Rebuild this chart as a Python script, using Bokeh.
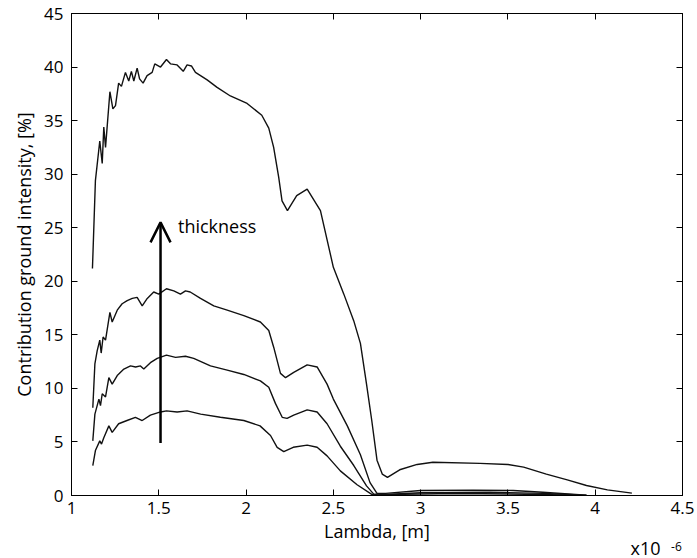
from bokeh.plotting import figure
from bokeh.models import Range1d, FixedTicker, LinearAxis, Arrow, OpenHead, Label, Title
from bokeh.embed import file_html
from bokeh.resources import INLINE

# wavelength in units of 1e-6 m, contribution in %
x1 = [1.122, 1.137, 1.162, 1.172, 1.185, 1.214, 1.233, 1.27, 1.318, 1.366, 1.405, 1.452,
      1.51, 1.544, 1.605, 1.662, 1.74, 1.853, 1.987, 2.08, 2.14, 2.178, 2.216, 2.27, 2.35,
      2.407, 2.464, 2.54, 2.636, 2.72, 2.76, 2.9, 3.2, 3.6, 3.9]
y1 = [2.8, 4.2, 5.1, 4.8, 5.4, 6.5, 5.9, 6.7, 7.0, 7.3, 7.0, 7.5,
      7.8, 7.9, 7.8, 7.9, 7.6, 7.3, 7.0, 6.5, 5.6, 4.5, 4.1, 4.5, 4.7,
      4.5, 3.7, 2.3, 1.0, 0.1, 0.05, 0.12, 0.18, 0.12, 0.02]

x2 = [1.122, 1.134, 1.157, 1.166, 1.176, 1.195, 1.214, 1.233, 1.262, 1.30, 1.338, 1.367,
      1.395, 1.414, 1.452, 1.491, 1.544, 1.596, 1.653, 1.70, 1.796, 1.892, 1.987, 2.082,
      2.13, 2.168, 2.207, 2.235, 2.273, 2.35, 2.407, 2.464, 2.54, 2.617, 2.69, 2.73,
      2.8, 3.0, 3.4, 3.7, 3.95]
y2 = [5.1, 7.6, 9.0, 8.4, 9.5, 9.2, 11.0, 10.4, 11.2, 11.8, 12.1, 12.0,
      12.1, 11.8, 12.4, 12.8, 13.1, 12.9, 13.0, 12.8, 12.1, 11.7, 11.3, 10.7,
      10.1, 8.6, 7.3, 7.2, 7.5, 8.0, 7.8, 6.7, 4.6, 2.8, 0.9, 0.15,
      0.1, 0.25, 0.3, 0.2, 0.02]

x3 = [1.122, 1.134, 1.147, 1.162, 1.17, 1.181, 1.195, 1.22, 1.233, 1.262, 1.29, 1.319,
      1.348, 1.376, 1.405, 1.434, 1.471, 1.50, 1.544, 1.586, 1.624, 1.653, 1.68, 1.739,
      1.815, 1.892, 1.987, 2.082, 2.13, 2.159, 2.197, 2.226, 2.273, 2.35, 2.407, 2.464,
      2.50, 2.58, 2.655, 2.71, 2.75, 2.8, 3.0, 3.3, 3.53, 3.7, 3.95]
y3 = [8.2, 12.3, 13.5, 14.5, 13.3, 14.8, 14.5, 17.1, 16.2, 17.3, 17.9, 18.2,
      18.4, 18.5, 17.7, 18.4, 19.0, 18.8, 19.3, 19.1, 18.8, 19.1, 19.0, 18.4,
      17.7, 17.3, 16.8, 16.2, 15.4, 13.8, 11.4, 11.0, 11.5, 12.2, 12.0, 10.4,
      9.0, 6.5, 3.8, 1.2, 0.2, 0.2, 0.47, 0.5, 0.47, 0.3, 0.02]

x4 = [1.12, 1.137, 1.162, 1.176, 1.185, 1.195, 1.22, 1.237, 1.252, 1.27, 1.286, 1.309,
      1.328, 1.343, 1.357, 1.376, 1.39, 1.41, 1.433, 1.462, 1.477, 1.51, 1.544, 1.567,
      1.605, 1.64, 1.662, 1.687, 1.71, 1.777, 1.834, 1.91, 2.006, 2.09, 2.13, 2.158,
      2.187, 2.206, 2.237, 2.29, 2.35, 2.426, 2.50, 2.56, 2.617, 2.655, 2.69, 2.72,
      2.75, 2.78, 2.81, 2.88, 2.98, 3.07, 3.34, 3.5, 3.59, 3.72, 3.84, 3.95, 4.07, 4.21]
y4 = [21.2, 29.4, 33.1, 31.0, 34.4, 32.5, 37.7, 36.1, 36.4, 38.5, 38.2, 39.5,
      38.7, 39.6, 38.7, 39.9, 38.9, 38.5, 39.2, 39.5, 40.3, 40.0, 40.7, 40.3,
      40.2, 39.6, 40.2, 40.1, 39.5, 38.8, 38.1, 37.3, 36.6, 35.5, 34.3, 32.5,
      29.7, 27.5, 26.6, 28.0, 28.6, 26.6, 21.3, 18.8, 16.3, 14.2, 10.4, 7.0,
      3.3, 2.0, 1.7, 2.4, 2.9, 3.1, 3.0, 2.9, 2.65, 2.0, 1.46, 0.93, 0.53, 0.22]

curves = [(x1, y1), (x2, y2), (x3, y3), (x4, y4)]

x_ticks = [1, 1.5, 2, 2.5, 3, 3.5, 4, 4.5]
x_tick_labels = ["1", "1.5", "2", "2.5", "3", "3.5", "4", "4.5"]
y_ticks = [0, 5, 10, 15, 20, 25, 30, 35, 40, 45]

arrow_x = 1.51
arrow_y0 = 4.9
arrow_y1 = 25.5
arrow_text = "thickness"
scale_text = "x10"
scale_exp = "-6"

FONT = "Open Sans"

p = figure(width=697, height=558, output_backend="svg", toolbar_location=None,
           x_range=Range1d(1, 4.5), y_range=Range1d(0, 45),
           min_border_left=71, min_border_right=15, min_border_top=13, min_border_bottom=63)
p.background_fill_color = "white"
p.border_fill_color = "white"
p.outline_line_color = "black"
p.outline_line_width = 1
p.xgrid.visible = False
p.ygrid.visible = False

for xs, ys in curves:
    p.line(xs, ys, line_color="#111111", line_width=1.4)

p.xaxis.ticker = FixedTicker(ticks=x_ticks)
p.xaxis.major_label_overrides = {t: l for t, l in zip(x_ticks, x_tick_labels)}
p.yaxis.ticker = FixedTicker(ticks=y_ticks)
for ax in (p.xaxis, p.yaxis):
    ax.major_tick_in = 6
    ax.major_tick_out = 0
    ax.minor_tick_line_color = None
    ax.axis_line_color = "black"
    ax.major_tick_line_color = "black"
    ax.major_label_text_font = FONT
    ax.major_label_text_font_size = "17px"
    ax.major_label_text_color = "black"
    ax.axis_label_text_font = FONT
    ax.axis_label_text_font_size = "18px"
    ax.axis_label_text_font_style = "normal"
    ax.axis_label_text_color = "black"
p.xaxis.major_label_standoff = 6
p.yaxis.major_label_standoff = 8
p.xaxis.axis_label = "Lambda, [m]"
p.yaxis.axis_label = "Contribution ground intensity, [%]"
p.xaxis.axis_label_standoff = 2
p.yaxis.axis_label_standoff = 5

# box axes on the top and right: inward ticks only, no labels
right = LinearAxis(ticker=FixedTicker(ticks=y_ticks), major_tick_in=6, major_tick_out=0,
                   minor_tick_line_color=None, major_label_text_font_size="0px",
                   major_label_standoff=0,
                   major_label_overrides={t: "" for t in y_ticks})
top = LinearAxis(ticker=FixedTicker(ticks=x_ticks), major_tick_in=6, major_tick_out=0,
                 minor_tick_line_color=None, major_label_text_font_size="0px",
                 major_label_standoff=0,
                 major_label_overrides={t: "" for t in x_ticks})
p.add_layout(right, "right")
p.add_layout(top, "above")

p.add_layout(Arrow(end=OpenHead(size=20, line_width=2.5, line_color="black"),
                   x_start=arrow_x, y_start=arrow_y0, x_end=arrow_x, y_end=arrow_y1,
                   line_width=2.5, line_color="black"))
p.add_layout(Label(x=1.61, y=25.2, text=arrow_text, text_font=FONT, text_font_size="18px",
                   text_baseline="middle", text_color="black"))

# scale factor texts sit in side panels so they are not clipped to the frame
p.add_layout(Title(text=scale_text, align="right", offset=22, standoff=-28,
                   text_font=FONT, text_font_size="18px", text_font_style="normal",
                   text_color="black"), "below")
p.add_layout(Label(x=4.465, y=-4.8, text=scale_exp, text_font=FONT, text_font_size="12px",
                   text_baseline="middle", text_align="center", text_color="black"), "right")

open("out.html", "w").write(file_html(p, INLINE))
